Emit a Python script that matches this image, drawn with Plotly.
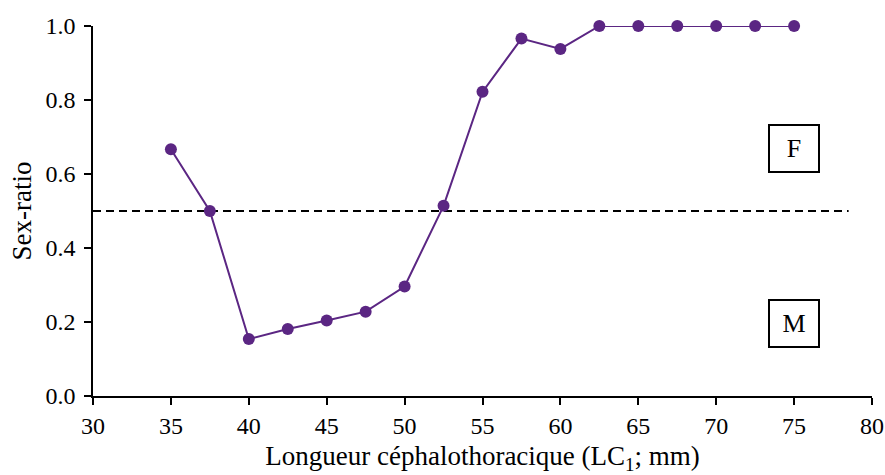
import plotly.graph_objects as go

# Longueur céphalothoracique (mm) et sex-ratio observé
lc_mm = [35, 37.5, 40, 42.5, 45, 47.5, 50, 52.5, 55, 57.5, 60, 62.5, 65, 67.5, 70, 72.5, 75]
sex_ratio = [0.667, 0.500, 0.154, 0.181, 0.204, 0.228, 0.296, 0.514, 0.822, 0.966, 0.938,
             1.0, 1.0, 1.0, 1.0, 1.0, 1.0]

x_ticks = [30, 35, 40, 45, 50, 55, 60, 65, 70, 75, 80]
y_ticks = [0.0, 0.2, 0.4, 0.6, 0.8, 1.0]
y_tick_labels = ["0.0", "0.2", "0.4", "0.6", "0.8", "1.0"]

# Seuil d'équilibre des sexes
threshold_x = [30, 78.5]
threshold_y = [0.5, 0.5]

# Zones : femelles majoritaires (F) / mâles majoritaires (M)
zone_labels = ["F", "M"]
zone_x = [75, 75]
zone_y = [0.67, 0.197]

purple = "#5B2683"
serif = "Liberation Serif, Times New Roman, serif"

fig = go.Figure()

fig.add_trace(go.Scatter(
    x=threshold_x, y=threshold_y, mode="lines",
    line=dict(color="black", width=2, dash="8px,5px"),
    hoverinfo="skip", showlegend=False,
))

fig.add_trace(go.Scatter(
    x=lc_mm, y=sex_ratio, mode="lines+markers",
    line=dict(color=purple, width=2),
    marker=dict(color=purple, size=12),
    cliponaxis=False, showlegend=False,
))

for label, xv, yv in zip(zone_labels, zone_x, zone_y):
    fig.add_annotation(
        x=xv, y=yv, text=label, showarrow=False,
        font=dict(family=serif, size=26, color="black"),
        bordercolor="black", borderwidth=2, borderpad=6,
        bgcolor="white", width=36, height=33,
    )

fig.update_xaxes(
    range=[30, 80], tickvals=x_ticks, ticks="outside", ticklen=7, tickwidth=1.5,
    tickcolor="black", showline=True, linecolor="black", linewidth=1.5,
    showgrid=False, zeroline=False, automargin=False,
    tickfont=dict(family=serif, size=24, color="black"),
    title=dict(text="Longueur céphalothoracique (LC<sub>1</sub>; mm)",
               font=dict(family=serif, size=27, color="black")),
)
fig.update_yaxes(
    range=[0, 1], tickvals=y_ticks, ticktext=y_tick_labels, ticks="outside",
    ticklen=7, tickwidth=1.5, tickcolor="black", showline=True, linecolor="black",
    linewidth=1.5, showgrid=False, zeroline=False, automargin=True,
    ticklabelstandoff=4,
    tickfont=dict(family=serif, size=24, color="black"),
    title=dict(text="Sex-ratio", font=dict(family=serif, size=27, color="black"),
               standoff=6),
)

fig.update_layout(
    width=885, height=475,
    margin=dict(l=93, r=13, t=26, b=79),
    paper_bgcolor="white", plot_bgcolor="white",
)

fig.write_html("out.html")
